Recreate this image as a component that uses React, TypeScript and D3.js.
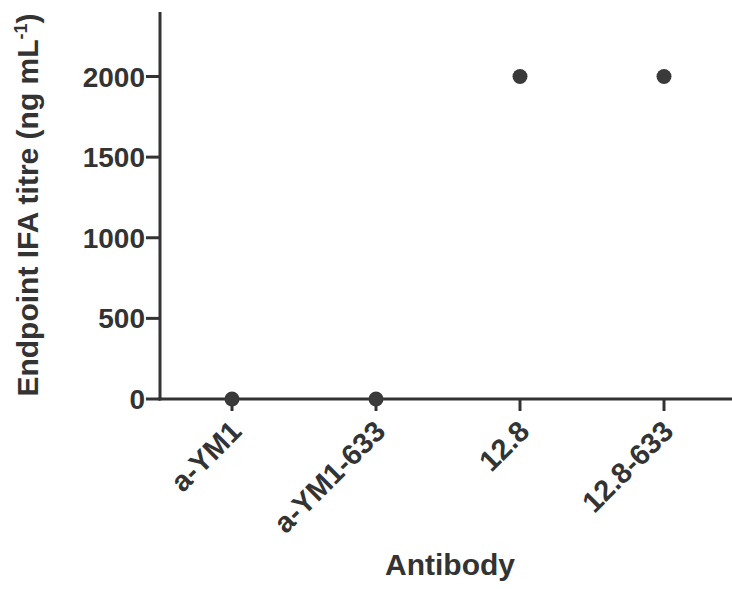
import React from "react";
import * as d3 from "d3";

const categories = ["a-YM1", "a-YM1-633", "12.8", "12.8-633"];
const values = [0, 0, 2000, 2000];
const yTicks = [0, 500, 1000, 1500, 2000];
const yMax = 2400;

const W = 732;
const H = 589;
const FONT = "Liberation Sans, Arial, Helvetica, sans-serif";
const INK = "#333333";

export default function App() {
  const x = d3.scaleBand<string>().domain(categories).range([160, 736]);
  const y = d3.scaleLinear().domain([0, yMax]).range([399, 12]);
  const cx = (c: string) => (x(c) as number) + x.bandwidth() / 2;

  return (
    <svg
      width={W}
      height={H}
      style={{ position: "absolute", left: 0, top: 0, background: "#fff" }}
      fontFamily={FONT}
    >
      <rect width={W} height={H} fill="#fff" />
      {/* y axis */}
      <line x1={160} x2={160} y1={y(yMax)} y2={y(0) + 1.5} stroke={INK} strokeWidth={3} />
      {yTicks.map((t) => (
        <g key={t}>
          <line x1={146} x2={160} y1={y(t)} y2={y(t)} stroke={INK} strokeWidth={3} />
          <text
            x={145}
            y={y(t)}
            dy="0.36em"
            textAnchor="end"
            fontSize={28}
            fontWeight="bold"
            fill={INK}
          >
            {t}
          </text>
        </g>
      ))}
      {/* x axis */}
      <line x1={158.5} x2={W} y1={y(0)} y2={y(0)} stroke={INK} strokeWidth={3} />
      {categories.map((c) => (
        <g key={c}>
          <line x1={cx(c)} x2={cx(c)} y1={y(0)} y2={y(0) + 12} stroke={INK} strokeWidth={3} />
          <text
            transform={`translate(${cx(c) + 4},${y(0) + 27}) rotate(-45)`}
            textAnchor="end"
            dy="0.35em"
            fontSize={29}
            fontWeight="bold"
            fill={INK}
          >
            {c}
          </text>
        </g>
      ))}
      {/* points */}
      {categories.map((c, i) => (
        <circle key={c} cx={cx(c)} cy={y(values[i])} r={7.5} fill="#3a3a3a" />
      ))}
      {/* axis titles */}
      <text
        x={450}
        y={575}
        textAnchor="middle"
        fontSize={30}
        fontWeight="bold"
        fill={INK}
      >
        Antibody
      </text>
      <text
        transform="translate(38,205) rotate(-90)"
        textAnchor="middle"
        fontSize={30}
        fontWeight="bold"
        fill={INK}
      >
        Endpoint IFA titre (ng mL
        <tspan dy="-11" fontSize={18}>-1</tspan>
        <tspan dy="11">)</tspan>
      </text>
    </svg>
  );
}
